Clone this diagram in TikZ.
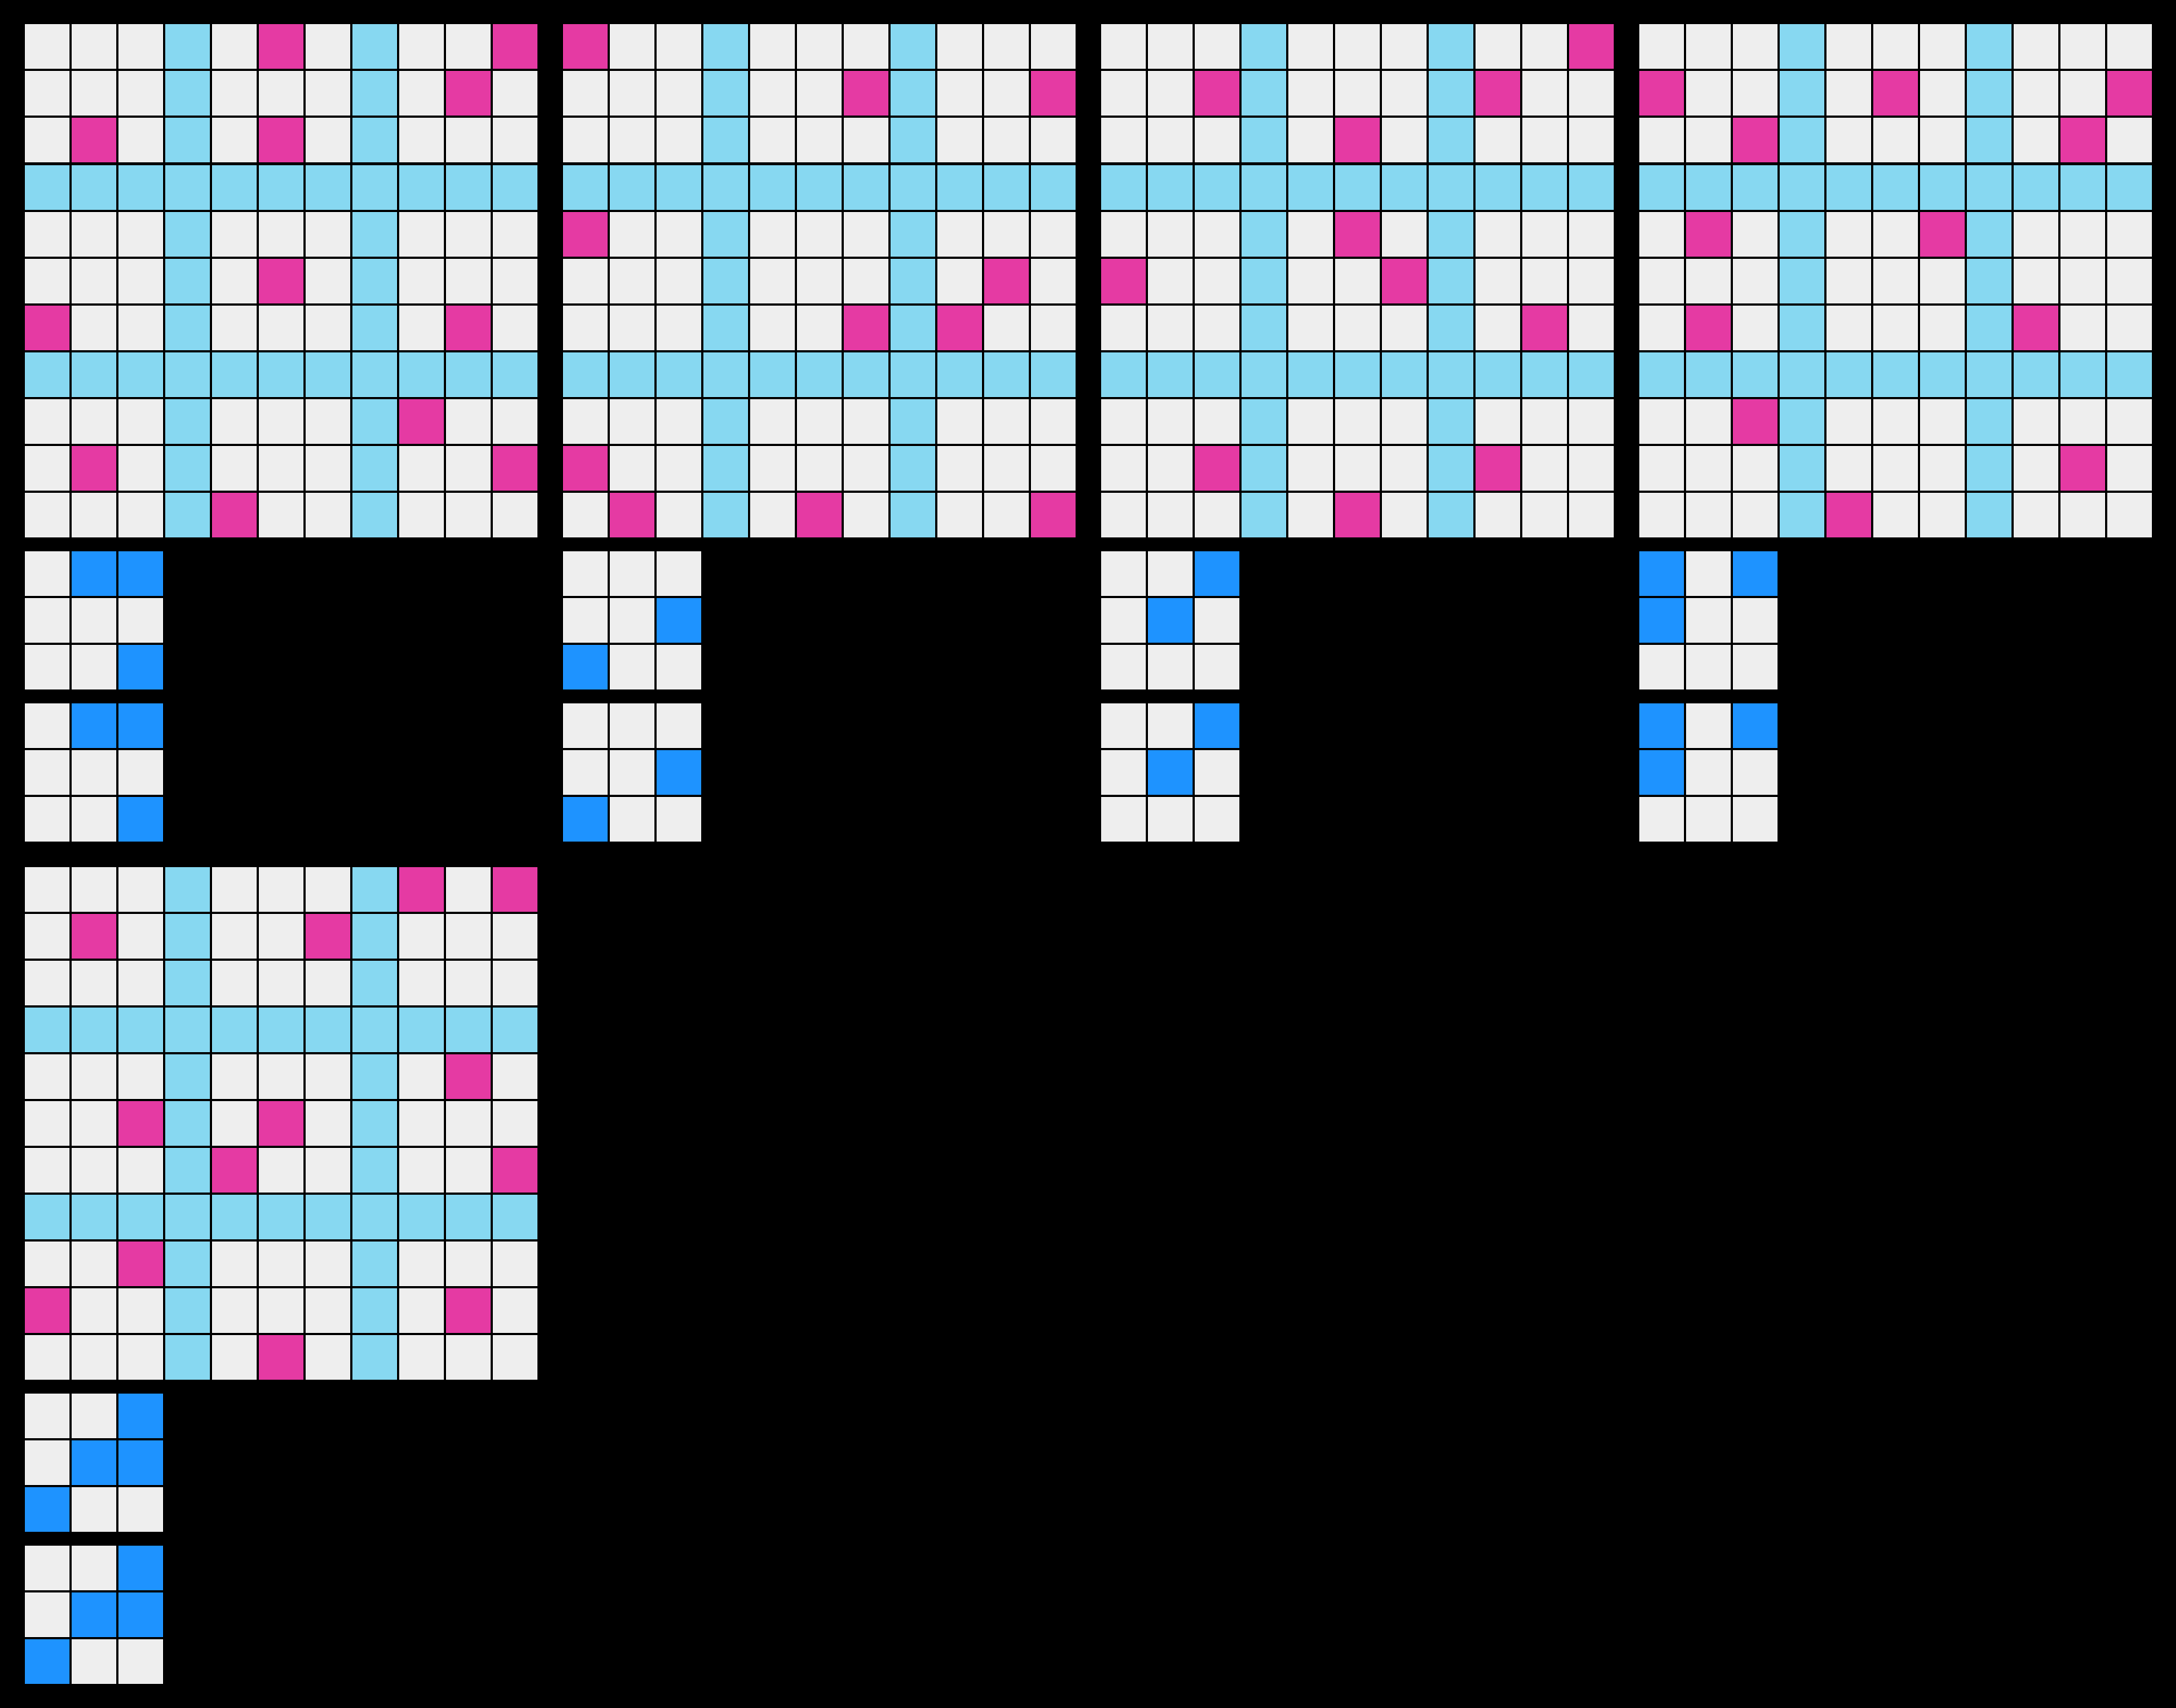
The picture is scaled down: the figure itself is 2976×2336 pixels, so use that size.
\documentclass[tikz,border=0pt]{standalone}
\definecolor{cgray}{HTML}{EEEEEE}
\definecolor{cazure}{HTML}{87D8F1}
\definecolor{cmag}{HTML}{E53AA3}
\definecolor{cblue}{HTML}{1E93FF}
\tikzset{cell/.style={draw=black,line width=3pt}}
\newcommand\arcbig[3]{%
  \foreach \r in {0,...,10}{%
    \foreach \c in {0,...,10}{%
      \pgfmathtruncatemacro\isaz{(\r==3)||(\r==7)||(\c==3)||(\c==7)}%
      \ifnum\isaz=1 \def\fc{cazure}\else\def\fc{cgray}\fi
      \path[cell,fill=\fc] (#1+64*\c,#2+64*\r) rectangle ++(64,64);
    }%
  }%
  \foreach \r/\c in {#3}{%
    \path[cell,fill=cmag] (#1+64*\c,#2+64*\r) rectangle ++(64,64);
  }%
}
\newcommand\arcsmall[3]{%
  \foreach \r in {0,1,2}{%
    \foreach \c in {0,1,2}{%
      \path[cell,fill=cgray] (#1+64*\c,#2+64*\r) rectangle ++(64,64);
    }%
  }%
  \foreach \r/\c in {#3}{%
    \path[cell,fill=cblue] (#1+64*\c,#2+64*\r) rectangle ++(64,64);
  }%
}
\begin{document}
\begin{tikzpicture}[x=1pt,y=-1pt]
\fill[black] (0,0) rectangle (2976,2336);
\useasboundingbox (0,0) rectangle (2976,2336);
% big grids
\arcbig{32}{32}{0/5,0/10,1/9,2/1,2/5,5/5,6/0,6/9,8/8,9/1,9/10,10/4}
\arcbig{768}{32}{0/0,1/6,1/10,4/0,5/9,6/6,6/8,9/0,10/1,10/5,10/10}
\arcbig{1504}{32}{0/10,1/2,1/8,2/5,4/5,5/0,5/6,6/9,9/2,9/8,10/5}
\arcbig{2240}{32}{1/0,1/5,1/10,2/2,2/9,4/1,4/6,6/1,6/8,8/2,9/9,10/4}
\arcbig{32}{1184}{0/8,0/10,1/1,1/6,4/9,5/2,5/5,6/4,6/10,8/2,9/0,9/9,10/5}
% small grids
\arcsmall{32}{752}{0/1,0/2,2/2}
\arcsmall{32}{960}{0/1,0/2,2/2}
\arcsmall{768}{752}{1/2,2/0}
\arcsmall{768}{960}{1/2,2/0}
\arcsmall{1504}{752}{0/2,1/1}
\arcsmall{1504}{960}{0/2,1/1}
\arcsmall{2240}{752}{0/0,0/2,1/0}
\arcsmall{2240}{960}{0/0,0/2,1/0}
\arcsmall{32}{1904}{0/2,1/1,1/2,2/0}
\arcsmall{32}{2112}{0/2,1/1,1/2,2/0}
\end{tikzpicture}
\end{document}
